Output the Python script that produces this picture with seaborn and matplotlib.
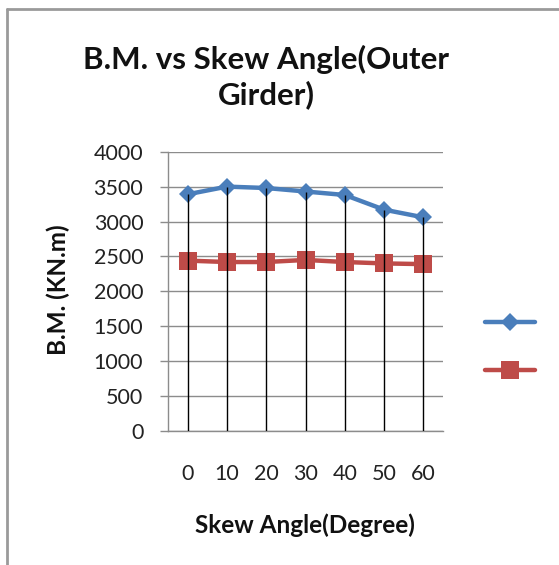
import matplotlib
matplotlib.use("Agg")
import matplotlib.pyplot as plt
from matplotlib.lines import Line2D
import seaborn as sns
import pandas as pd
import numpy as np

categories = ["0", "10", "20", "30", "40", "50", "60"]
series_a = [3390, 3500, 3480, 3430, 3380, 3170, 3060]
series_b = [2440, 2420, 2420, 2450, 2420, 2400, 2390]
y_ticks = [0, 500, 1000, 1500, 2000, 2500, 3000, 3500, 4000]

BLUE = "#4A7EBB"
RED = "#BE4B48"
GRID = "#8C8C8C"

sns.set_theme(style="white")
plt.rcParams["font.family"] = ["Lato", "DejaVu Sans"]

fig = plt.figure(figsize=(5.59, 5.65), dpi=100)
ax = fig.add_axes([168 / 559, 1 - 431 / 565, (443 - 168) / 559, (431 - 151.7) / 565])

pos = np.arange(len(categories))
df = pd.DataFrame({"pos": np.concatenate([pos, pos]),
                   "value": series_a + series_b,
                   "series": ["A"] * len(pos) + ["B"] * len(pos)})

sns.lineplot(data=df[df.series == "A"], x="pos", y="value", color=BLUE, lw=3.2,
             marker="D", markersize=9, markeredgewidth=0, ax=ax, zorder=3)
sns.lineplot(data=df[df.series == "B"], x="pos", y="value", color=RED, lw=3.2,
             marker="s", markersize=13, markeredgewidth=0, ax=ax, zorder=3)

# drop lines
ax.vlines(pos, 0, np.maximum(series_a, series_b), colors="black", lw=1.0, zorder=4)

ax.set_xlim(-0.5, len(categories) - 0.5)
ax.set_ylim(0, 4000)
ax.set_yticks(y_ticks)
ax.set_xticks(pos)
ax.set_xticklabels(categories)
ax.yaxis.grid(True, color=GRID, lw=1.0)
ax.set_axisbelow(True)
for s in ["top", "right"]:
    ax.spines[s].set_visible(False)
for s in ["left", "bottom"]:
    ax.spines[s].set_color(GRID)
    ax.spines[s].set_linewidth(1.0)
ax.tick_params(axis="y", length=5.8, width=1.0, color=GRID, pad=12, labelsize=15.5, labelcolor="#222222", left=True)
ax.tick_params(axis="x", length=0, pad=24, labelsize=15.5, labelcolor="#222222")
ax.set_xlabel("")
ax.set_ylabel("")

fig.text(305 / 559, 1 - 525 / 565, "Skew Angle(Degree)", ha="center", va="center",
         fontsize=17.5, fontweight="bold", color="#111111")
fig.text(58 / 559, 1 - 290 / 565, "B.M. (KN.m)", ha="center", va="center", rotation=90,
         fontsize=17.5, fontweight="bold", color="#111111")
fig.text(266 / 559, 1 - 77 / 565, "B.M. vs Skew Angle(Outer\nGirder)", ha="center", va="center",
         fontsize=22.5, fontweight="bold", color="#111111", linespacing=1.28)

handles = [Line2D([], [], color=BLUE, lw=3.2, marker="D", markersize=9, markeredgewidth=0),
           Line2D([], [], color=RED, lw=3.2, marker="s", markersize=13, markeredgewidth=0)]
leg = fig.legend(handles, ["", ""], loc="center", bbox_to_anchor=(510 / 559, 1 - 346.5 / 565),
                 frameon=False, handlelength=3.0, labelspacing=1.9, handletextpad=0, fontsize=12)

# outer chart border (left and top edges visible)
fig.add_artist(Line2D([7 / 559, 7 / 559], [0, 1 - 9 / 565], transform=fig.transFigure, color="#9A9A9A", lw=2))
fig.add_artist(Line2D([7 / 559, 1], [1 - 9 / 565, 1 - 9 / 565], transform=fig.transFigure, color="#9A9A9A", lw=2))

fig.savefig("out.png", dpi=100, facecolor="white")
